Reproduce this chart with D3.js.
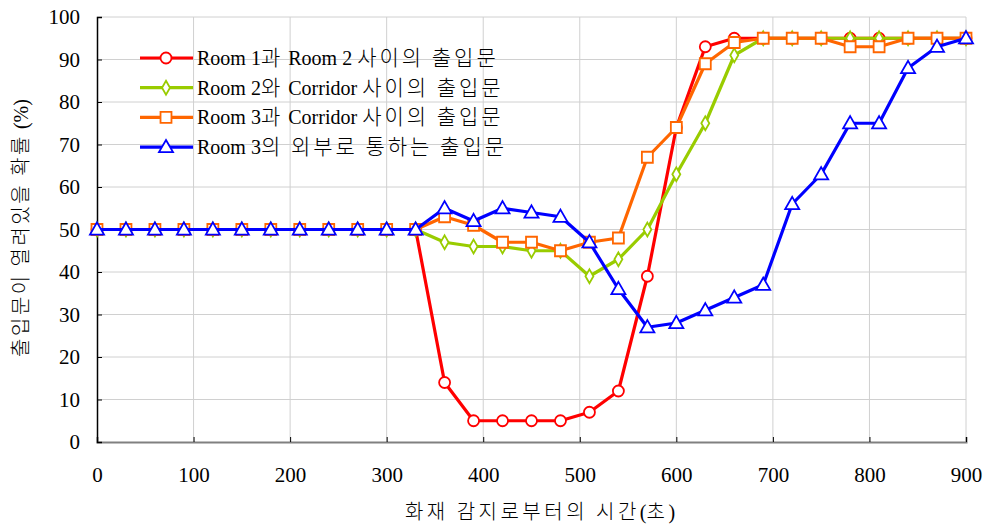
<!DOCTYPE html>
<html>
<head>
<meta charset="utf-8">
<script src="https://cdn.jsdelivr.net/npm/d3@7"></script>
<style>
  body { margin: 0; background: #fff; }
  text { font-family: "Liberation Serif", "Noto Sans CJK KR", serif; fill: #000; }
  tspan.ko { font-family: "Noto Sans CJK KR", sans-serif; font-weight: 300; }
</style>
</head>
<body>
<div id="chart"></div>
<script>
// Time in seconds after fire detection
const times = d3.range(0, 901, 30);

// Probability (%) that each door is open
const room1Room2 = [50, 50, 50, 50, 50, 50, 50, 50, 50, 50, 50, 50, 14, 5, 5, 5, 5, 7, 12, 39, 74, 93, 95, 95, 95, 95, 95, 95, 95, 95, 95];
const room2Corridor = [50, 50, 50, 50, 50, 50, 50, 50, 50, 50, 50, 50, 47, 46, 46, 45, 45, 39, 43, 50, 63, 75, 91, 95, 95, 95, 95, 95, 95, 95, 95];
const room3Corridor = [50, 50, 50, 50, 50, 50, 50, 50, 50, 50, 50, 50, 53, 51, 47, 47, 45, 47, 48, 67, 74, 89, 94, 95, 95, 95, 93, 93, 95, 95, 95];
const room3Outside = [50, 50, 50, 50, 50, 50, 50, 50, 50, 50, 50, 50, 55, 52, 55, 54, 53, 47, 36, 27, 28, 31, 34, 37, 56, 63, 75, 75, 88, 93, 95];

const seriesNames = [
    "Room 1과 Room 2 사이의 출입문",
    "Room 2와 Corridor 사이의 출입문",
    "Room 3과 Corridor 사이의 출입문",
    "Room 3의 외부로 통하는 출입문"
];
const xTicks = d3.range(0, 901, 100);
const yTicks = d3.range(0, 101, 10);

const series = [
    {name: seriesNames[0], values: room1Room2, color: "#ff0000", marker: "circle"},
    {name: seriesNames[1], values: room2Corridor, color: "#99cc00", marker: "diamond"},
    {name: seriesNames[2], values: room3Corridor, color: "#ff6600", marker: "square"},
    {name: seriesNames[3], values: room3Outside, color: "#0000ff", marker: "triangle"}
];

const width = 990, height = 532;
const margin = {top: 17, right: 24, bottom: 90, left: 97};
const innerW = width - margin.left - margin.right;
const innerH = height - margin.top - margin.bottom;

// Split a label into Hangul and Latin runs so the Korean gets its own font
function mixedText(sel, str, koSize, spacing) {
    const runs = str.match(/[\uAC00-\uD7A3]+(?: (?=[\uAC00-\uD7A3]))?|[^\uAC00-\uD7A3]+/g);
    runs.forEach(r => {
        const isKo = /[\uAC00-\uD7A3]/.test(r);
        const t = sel.append("tspan").text(r.replace(/ /g, "\u00a0"));
        if (isKo) {
            t.attr("class", "ko")
                .style("font-size", koSize + "px")
                .style("letter-spacing", spacing + "px");
        }
    });
}

const svg = d3.select("#chart")
    .append("svg")
    .attr("width", width)
    .attr("height", height);

const g = svg.append("g")
    .attr("transform", "translate(" + margin.left + "," + margin.top + ")");

const xScale = d3.scaleLinear().domain([0, 900]).range([0, innerW]);
const yScale = d3.scaleLinear().domain([0, 100]).range([innerH, 0]);

// Grid lines
g.append("g")
    .selectAll("line")
    .data(yTicks.slice(1))
    .join("line")
    .attr("x1", 0).attr("x2", innerW)
    .attr("y1", d => yScale(d)).attr("y2", d => yScale(d))
    .attr("stroke", "#d0d0d0").attr("stroke-width", 1);

g.append("g")
    .selectAll("line")
    .data(xTicks.slice(1))
    .join("line")
    .attr("x1", d => xScale(d)).attr("x2", d => xScale(d))
    .attr("y1", 0).attr("y2", innerH)
    .attr("stroke", "#d0d0d0").attr("stroke-width", 1);

// Axes
const xAxis = d3.axisBottom(xScale).tickValues(xTicks).tickSize(-5).tickPadding(25);
const yAxis = d3.axisLeft(yScale).tickValues(yTicks).tickSize(-5).tickPadding(17);

const gx = g.append("g")
    .attr("transform", "translate(0," + innerH + ")")
    .call(xAxis);
gx.select(".domain").attr("stroke", "#808080").attr("stroke-width", 2);
gx.selectAll(".tick line").attr("stroke", "#000");
gx.selectAll("text").style("font-size", "21px");

const gy = g.append("g").call(yAxis);
gy.select(".domain").attr("stroke", "#000").attr("stroke-width", 1.5);
gy.selectAll(".tick line").attr("stroke", "#000");
gy.selectAll("text").style("font-size", "21px");

// Axis titles
svg.append("text")
    .attr("text-anchor", "middle")
    .attr("x", 540)
    .attr("y", 519)
    .style("font-size", "20px")
    .call(mixedText, "화재 감지로부터의 시간(초)", 20, 3.5);

svg.append("text")
    .attr("text-anchor", "middle")
    .attr("transform", "rotate(-90)")
    .attr("x", -228)
    .attr("y", 28)
    .style("font-size", "20px")
    .call(mixedText, "출입문이 열려있을 확률 (%)", 20, 2.5);

// Markers
const symbols = {
    circle: d3.symbol().type(d3.symbolCircle).size(95),
    diamond: d3.symbol().type(d3.symbolDiamond).size(55),
    square: d3.symbol().type(d3.symbolSquare).size(120),
    triangle: d3.symbol().type(d3.symbolTriangle).size(85)
};

const line = d3.line()
    .x((d, i) => xScale(times[i]))
    .y(d => yScale(d));

series.forEach(s => {
    const sg = g.append("g");
    sg.append("path")
        .datum(s.values)
        .attr("d", line)
        .attr("fill", "none")
        .attr("stroke", s.color)
        .attr("stroke-width", 3.2)
        .attr("stroke-linejoin", "round");

    sg.selectAll("path.marker")
        .data(s.values)
        .join("path")
        .attr("class", "marker")
        .attr("d", symbols[s.marker])
        .attr("transform", (d, i) => "translate(" + xScale(times[i]) + "," + (yScale(d) + (s.marker === "triangle" ? 1 : 0)) + ")")
        .attr("fill", "#fff")
        .attr("stroke", s.color)
        .attr("stroke-width", 1.8);
});

// Legend
const legend = svg.append("g").attr("transform", "translate(140,58)");
series.forEach((s, i) => {
    const row = legend.append("g").attr("transform", "translate(0," + (i * 29.7) + ")");
    row.append("line")
        .attr("x1", 0).attr("x2", 53)
        .attr("y1", 0).attr("y2", 0)
        .attr("stroke", s.color)
        .attr("stroke-width", 3.2);
    row.append("path")
        .attr("d", symbols[s.marker])
        .attr("transform", "translate(26," + (s.marker === "triangle" ? 1 : 0) + ")")
        .attr("fill", "#fff")
        .attr("stroke", s.color)
        .attr("stroke-width", 1.8);
    row.append("text")
        .attr("x", 57)
        .attr("y", 0)
        .attr("dy", "0.35em")
        .style("font-size", "20px")
        .call(mixedText, s.name, 21, 3);
});
</script>
</body>
</html>
